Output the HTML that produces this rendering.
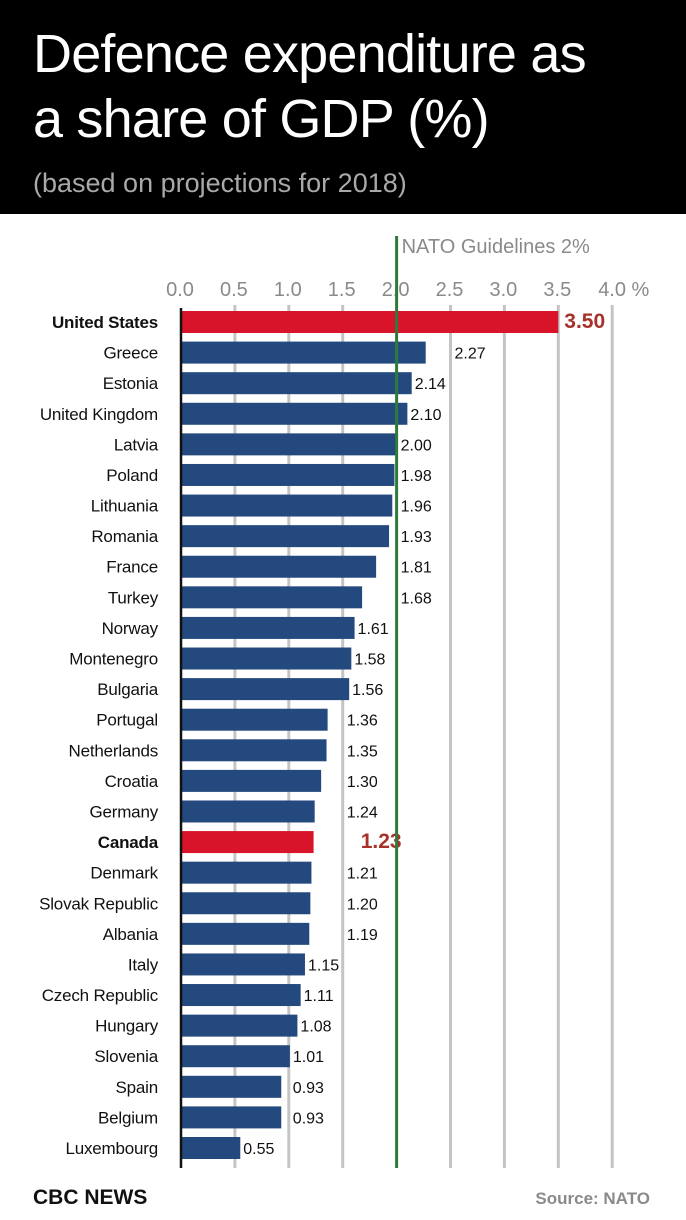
<!DOCTYPE html>
<html><head><meta charset="utf-8"><style>
html,body{margin:0;padding:0;width:686px;height:1220px;overflow:hidden;background:#fff;font-family:"Liberation Sans Narrow","Liberation Sans",sans-serif}
#hdr{position:absolute;left:0;top:0;width:686px;height:214px;background:#000}
.t{position:absolute;left:33px;color:#fff;font-size:54px;letter-spacing:-0.8px;white-space:nowrap;line-height:62px}
#sub{position:absolute;left:33px;top:168px;color:#a9a9a9;font-size:27px;white-space:nowrap}
svg{position:absolute;left:0;top:0}
</style></head><body>
<div id="hdr">
<div class="t" style="top:23px">Defence expenditure as</div>
<div class="t" style="top:88px">a share of GDP (%)</div>
<div id="sub">(based on projections for 2018)</div>
</div>
<svg id="chart" width="686" height="1220"></svg>
<script>
const countries=["United States","Greece","Estonia","United Kingdom","Latvia","Poland","Lithuania","Romania","France","Turkey","Norway","Montenegro","Bulgaria","Portugal","Netherlands","Croatia","Germany","Canada","Denmark","Slovak Republic","Albania","Italy","Czech Republic","Hungary","Slovenia","Spain","Belgium","Luxembourg"];
const values=[3.50,2.27,2.14,2.10,2.00,1.98,1.96,1.93,1.81,1.68,1.61,1.58,1.56,1.36,1.35,1.30,1.24,1.23,1.21,1.20,1.19,1.15,1.11,1.08,1.01,0.93,0.93,0.55];
const highlighted=["United States","Canada"];
const ticks=[0,0.5,1,1.5,2,2.5,3,3.5,4];
const tickLabels=["0.0","0.5","1.0","1.5","2.0","2.5","3.0","3.5","4.0 %"];
const guideline=2;

const svg=document.getElementById('chart');
const NS='http://www.w3.org/2000/svg';
const x=v=>181+v*107.8;
const rowY=i=>322+i*((1148-322)/(countries.length-1));
function mk(tag,attrs){const e=document.createElementNS(NS,tag);for(const k in attrs)e.setAttribute(k,attrs[k]);svg.appendChild(e);return e;}
ticks.forEach((t,i)=>{
  if(t>0 && t!==guideline){const g=mk('line',{x1:x(t),x2:x(t),y1:305,y2:1168,stroke:'#c4c4c4','stroke-width':3});
  
  }
  const tl=mk('text',{x:x(t)-1,y:296,'font-size':20,fill:'#8a8a8a','text-anchor':i===ticks.length-1?'start':'middle'});
  if(i===ticks.length-1)tl.setAttribute('x',x(t)-14);
  tl.textContent=tickLabels[i];
  
  
});
countries.forEach((c,i)=>{
  const hi=highlighted.includes(c);
  const y=rowY(i);
  const b=mk('rect',{x:x(0),y:y-11,width:x(values[i])-x(0),height:22,fill:hi?'#d8142b':'#24497e'});
  
  
  const l=mk('text',{x:158,y:y+6,'font-size':17,'text-anchor':'end',fill:'#111','font-weight':hi?'bold':'normal','letter-spacing':'-0.2'});
  l.textContent=c;
  
  
  const end=x(values[i]);
  let lx=end+3;
  const ng=ticks.map(x).find(g=>g>=end-4&&g<=end+36);
  if(ng!==undefined)lx=Math.max(ng+4,end+3);
  if(hi)lx=end+6;
  if(c==='Canada')lx=x(1.5)+18;
  const v=mk('text',{x:lx,y:y+6,'font-size':hi?21:16,fill:hi?'#a6322a':'#111','font-weight':hi?'bold':'normal'});
  v.textContent=values[i].toFixed(2);
  
  
});
const gl=mk('line',{x1:x(guideline),x2:x(guideline),y1:236,y2:1168,stroke:'#2d7a3a','stroke-width':3});


const gt=mk('text',{x:x(guideline)+5,y:253,'font-size':20,fill:'#8a8a8a'});
gt.textContent='NATO Guidelines 2%';


const ax=mk('line',{x1:181,x2:181,y1:308,y2:1168,stroke:'#111','stroke-width':2.5});


const cbc=mk('text',{x:33,y:1204,'font-size':21,'font-weight':'bold',fill:'#111'});
cbc.textContent='CBC NEWS';


const src=mk('text',{x:650,y:1204,'font-size':17,'font-weight':'bold',fill:'#8a8a8a','text-anchor':'end'});
src.textContent='Source: NATO';


</script>
</body></html>
